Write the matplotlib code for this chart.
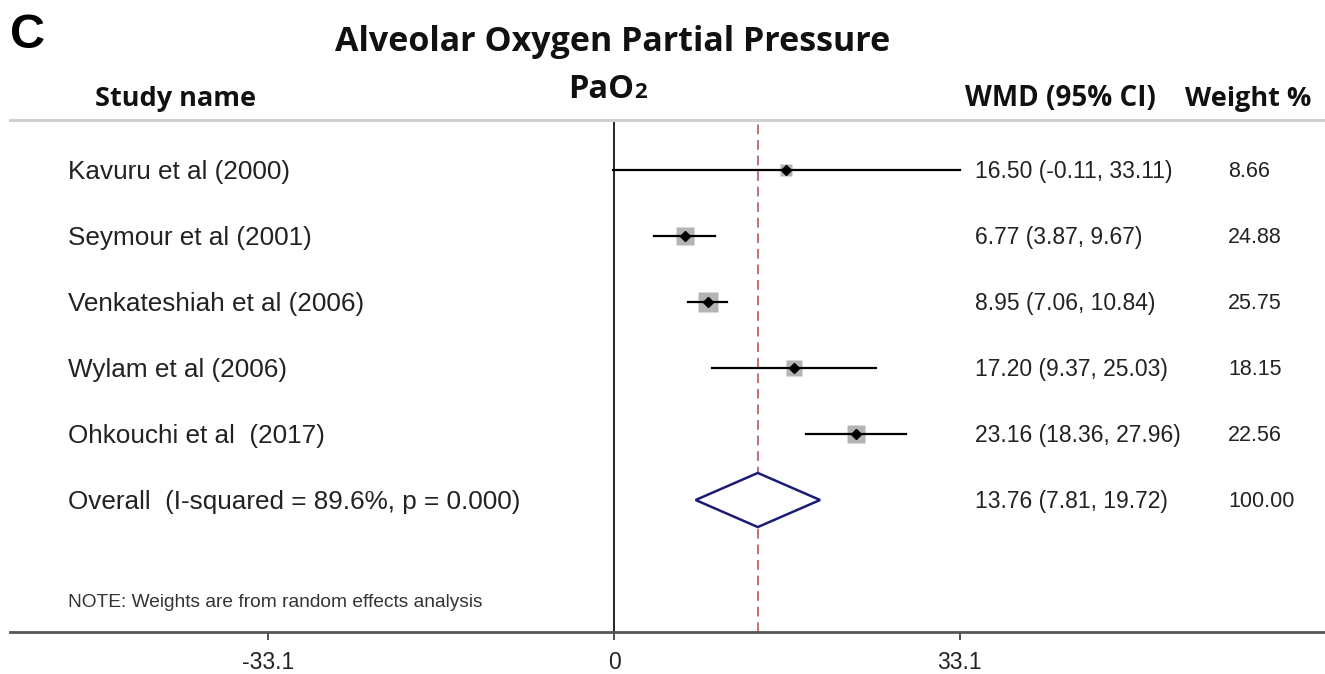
import numpy as np
import matplotlib.pyplot as plt
from matplotlib import transforms

# data
studies = ["Kavuru et al (2000)", "Seymour et al (2001)", "Venkateshiah et al (2006)",
           "Wylam et al (2006)", "Ohkouchi et al  (2017)"]
wmd = [16.50, 6.77, 8.95, 17.20, 23.16]
lo = [-0.11, 3.87, 7.06, 9.37, 18.36]
hi = [33.11, 9.67, 10.84, 25.03, 27.96]
weights = [8.66, 24.88, 25.75, 18.15, 22.56]
overall_label = "Overall  (I-squared = 89.6%, p = 0.000)"
overall = 13.76
overall_lo = 7.81
overall_hi = 19.72
tick_vals = [-33.1, 0, 33.1]
tick_labels = ["-33.1", "0", "33.1"]

W, H = 1325, 674
fig = plt.figure(figsize=(W / 100, H / 100), dpi=100)

# axes: top spine = header rule, bottom spine = x axis
ax = fig.add_axes([10 / W, (H - 632) / H, 1315 / W, (632 - 120) / H])
scale = 10.45  # px per unit
ax.set_xlim(-(614 - 10) / scale, (1325 - 614) / scale)
ax.set_ylim((632 - 170) / 66, (120 - 170) / 66)

for s in ["left", "right"]:
    ax.spines[s].set_visible(False)
ax.spines["top"].set_color("#d0d0d0")
ax.spines["top"].set_linewidth(2.2)
ax.spines["bottom"].set_color("#555555")
ax.spines["bottom"].set_linewidth(2)
ax.set_yticks([])
ax.set_xticks(tick_vals)
ax.set_xticklabels(tick_labels, fontsize=16.5, family="Liberation Sans", color="#222222")
ax.tick_params(axis="x", direction="out", length=6, width=1.2, pad=8, color="#333333")

ax.axvline(0, color="black", lw=1.2)
ax.axvline(overall, color="#c46e74", lw=1.4, ls=(0, (5, 3)))

rows = np.arange(len(studies))
for i in rows:
    ax.plot([lo[i], hi[i]], [i, i], color="black", lw=1.6, zorder=3)
    ax.plot(wmd[i], i, marker="s", ms=2.7 * np.sqrt(weights[i]), color="#b4b4b4",
            mec="none", zorder=2)
    ax.plot(wmd[i], i, marker="D", ms=5, color="black", zorder=4)

yo = len(studies)
ax.fill([overall_lo, overall, overall_hi, overall, overall_lo],
        [yo, yo - 0.41, yo, yo + 0.41, yo], facecolor="white", edgecolor="#1c1c78",
        lw=1.8, zorder=3)

# text columns
tr_lab = transforms.blended_transform_factory(fig.transFigure, ax.transData)
for i, name in enumerate(studies + [overall_label]):
    ax.text(68 / W, i + 0.03, name, transform=tr_lab, fontsize=18.8,
            family="Liberation Sans", va="center", ha="left", color="#222222")
    if i < len(studies):
        ci = f"{wmd[i]:.2f} ({lo[i]:.2f}, {hi[i]:.2f})"
        wt = f"{weights[i]:.2f}"
    else:
        ci = f"{overall:.2f} ({overall_lo:.2f}, {overall_hi:.2f})"
        wt = "100.00"
    ax.text(975 / W, i + 0.03, ci, transform=tr_lab, fontsize=16.5,
            family="Liberation Sans", va="center", ha="left", color="#222222")
    ax.text(1228 / W, i + 0.03, wt, transform=tr_lab, fontsize=15.5,
            family="Liberation Sans", va="center", ha="left", color="#222222")

ax.text(68 / W, (632 - 170) / 66 - 0.45, "NOTE: Weights are from random effects analysis",
        transform=tr_lab, fontsize=13.8, family="Liberation Sans", va="center",
        ha="left", color="#333333")

# headings
fig.text(10 / W, 1 - 36 / H, "C", fontsize=35, weight="bold", family="Liberation Sans",
         va="center", ha="left")
fig.text(613 / W, 1 - 42 / H, "Alveolar Oxygen Partial Pressure", fontsize=24.5,
         weight="bold", family="Open Sans", va="center", ha="center", color="#111111")
fig.text(634 / W, 1 - 98 / H, "PaO", fontsize=23.5, weight="bold", family="Open Sans",
         va="baseline", ha="right", color="#111111")
fig.text(634 / W, 1 - 98 / H, "2", fontsize=16, weight="bold", family="Open Sans",
         va="baseline", ha="left", color="#111111")
fig.text(95 / W, 1 - 99 / H, "Study name", fontsize=19.5, weight="bold", family="Open Sans",
         va="center", ha="left", color="#111111")
fig.text(965 / W, 1 - 99 / H, "WMD (95% CI)", fontsize=20, weight="bold",
         family="Open Sans", va="center", ha="left", color="#111111")
fig.text(1185 / W, 1 - 99 / H, "Weight %", fontsize=19.5, weight="bold", family="Open Sans",
         va="center", ha="left", color="#111111")

fig.savefig("out.png", dpi=100)
